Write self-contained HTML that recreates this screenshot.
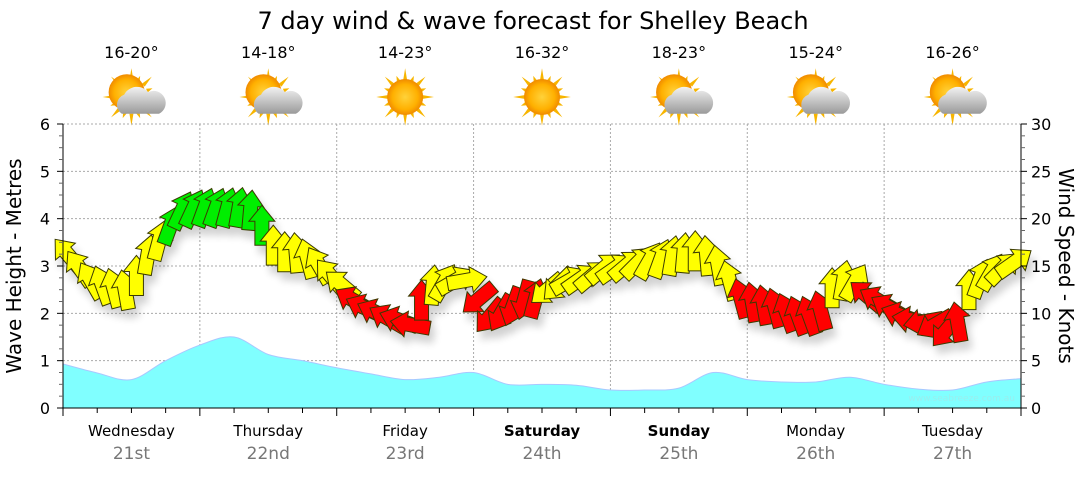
<!DOCTYPE html>
<html><head><meta charset="utf-8"><style>
body{margin:0;background:#fff;width:1080px;height:475px;overflow:hidden;font-family:"Liberation Sans","DejaVu Sans",sans-serif}
</style></head><body>
<svg id="chart" width="1080" height="475" xmlns="http://www.w3.org/2000/svg" font-family="'DejaVu Sans','Liberation Sans',sans-serif">
<defs>
<radialGradient id="sun" cx="50%" cy="50%" r="50%"><stop offset="0" stop-color="#ffd23a"/><stop offset="0.7" stop-color="#ffb000"/><stop offset="1" stop-color="#f08a00"/></radialGradient>
<linearGradient id="cloud" x1="0" y1="0" x2="0" y2="1"><stop offset="0" stop-color="#f2f2f2"/><stop offset="1" stop-color="#9a9a9a"/></linearGradient>
<filter id="sh" x="-50%" y="-50%" width="200%" height="200%"><feGaussianBlur in="SourceAlpha" stdDeviation="4"/><feOffset dx="4" dy="8"/><feComponentTransfer><feFuncA type="linear" slope="0.18"/></feComponentTransfer><feMerge><feMergeNode/><feMergeNode in="SourceGraphic"/></feMerge></filter>
</defs>
<text x="533" y="29" font-size="24" text-anchor="middle" fill="#000">7 day wind &amp; wave forecast for Shelley Beach</text>
<g id="topg"></g>
<g id="grid"></g>
<g id="wave"></g>
<g id="arrows" filter="url(#sh)"></g>
<g id="axes"></g>
<text x="1015" y="401" font-size="9" text-anchor="end" fill="#9ee">www.seabreeze.com.au</text>
<text transform="translate(21,266) rotate(-90)" font-size="20" text-anchor="middle">Wave Height - Metres</text>
<text transform="translate(1059,266) rotate(90)" font-size="20" text-anchor="middle">Wind Speed - Knots</text>
</svg>
<script>
const days=["Wednesday","Thursday","Friday","Saturday","Sunday","Monday","Tuesday"];
const dates=["21st","22nd","23rd","24th","25th","26th","27th"];
const temps=["16-20°","14-18°","14-23°","16-32°","18-23°","15-24°","16-26°"];
const icons=["cloud","cloud","sun","sun","cloud","cloud","cloud"];
const boldDays=[false,false,false,true,true,false,false];
const waveTicks=[0,1,2,3,4,5,6];
const windTicks=[0,5,10,15,20,25,30];
// wave height (m), 6-hourly
const waveHeights=[0.93,0.74,0.6,1.0,1.33,1.5,1.13,1.0,0.85,0.72,0.6,0.65,0.75,0.5,0.5,0.48,0.38,0.38,0.42,0.75,0.6,0.55,0.55,0.65,0.5,0.4,0.38,0.55,0.62];
// wind speed (knots), 2-hourly
const windSpeeds=[16.2,14.8,13.5,13.0,12.7,12.5,14.0,16.2,17.7,19.3,20.9,21.1,
21.2,21.2,21.2,21.2,20.9,19.3,17.2,16.5,16.4,15.8,15.1,14.0,
13.0,11.4,10.6,10.1,9.5,9.3,8.8,11.4,13.0,13.3,13.5,13.5,
11.5,9.7,10.0,10.7,11.4,11.6,12.5,13.0,13.5,13.7,14.0,14.8,
14.8,15.1,15.4,15.6,15.8,16.1,16.4,16.6,16.1,15.1,13.5,11.6,
11.2,10.9,10.6,10.1,9.8,9.8,10.3,12.7,13.5,13.3,11.9,11.4,
10.6,9.8,9.3,9.1,8.8,8.2,9.1,12.5,13.7,14.4,14.8,15.4];
// arrow heading (deg clockwise from up)
const windDirs=[-40,-35,-30,-20,-15,-10,0,10,15,20,25,25,
20,20,15,10,5,0,0,0,-5,-15,-30,-40,
-50,-60,-65,-65,-60,-70,-80,0,5,30,60,80,
230,220,210,200,195,15,230,225,60,55,50,50,
55,50,45,30,20,10,5,0,-5,-10,-15,-15,
-10,-10,-15,-20,-20,-20,-15,0,10,30,-50,-60,
-60,-70,-80,-100,-120,-140,-10,0,20,30,45,55];

const NS="http://www.w3.org/2000/svg";
const X0=63,X1=1021,Y0=408,Y1=124;
const dayW=(X1-X0)/7;
const xDay=d=>X0+d*dayW;
const yWave=m=>Y0-(Y0-Y1)*m/6;
const yWind=k=>Y0-(Y0-Y1)*k/30;
function el(tag,attrs,parent){const e=document.createElementNS(NS,tag);for(const k in attrs)e.setAttribute(k,attrs[k]);parent.appendChild(e);return e;}
const topG=document.getElementById('topg'),grid=document.getElementById('grid'),axes=document.getElementById('axes');

days.forEach((d,i)=>{
  const cx=xDay(i+0.5);
  const t=el('text',{x:cx,y:58,'font-size':16,'text-anchor':'middle'},topG);t.textContent=temps[i];
  
  
  const g=el('g',{transform:`translate(${cx},97) scale(1.2)`},topG);
  
  
  for(let r=0;r<16;r++){const a=r*Math.PI/8;el('polygon',{points:`${Math.cos(a-0.12)*14},${Math.sin(a-0.12)*14} ${Math.cos(a)*(r%2?19:24)},${Math.sin(a)*(r%2?19:24)} ${Math.cos(a+0.12)*14},${Math.sin(a+0.12)*14}`,fill:'#f7b500'},g);}
  if(icons[i]==='cloud'){el('circle',{cx:-4,cy:-4,r:15,fill:'url(#sun)'},g);
    el('path',{d:'M-8,14 a9,9 0 0 1 2,-16 a12,12 0 0 1 20,-2 a9,9 0 0 1 9,18 z',fill:'url(#cloud)'},g);}
  else el('circle',{cx:0,cy:0,r:15,fill:'url(#sun)'},g);
  const dl=el('text',{x:cx,y:436,'font-size':15,'text-anchor':'middle','font-weight':boldDays[i]?'bold':'normal'},axes);dl.textContent=d;
  
  
  const dt=el('text',{x:cx,y:459,'font-size':17,'text-anchor':'middle',fill:'#777'},axes);dt.textContent=dates[i];
  
  
  if(i>0){const v=el('line',{x1:xDay(i),x2:xDay(i),y1:Y1,y2:Y0,stroke:'#aaa','stroke-dasharray':'2,2'},grid);
    
    }
});
waveTicks.forEach((m,i)=>{
  const y=yWave(m);
  if(m>0){const h=el('line',{x1:X0,x2:X1,y1:y,y2:y,stroke:'#aaa','stroke-dasharray':'2,2'},grid);
    
    }
  const t=el('text',{x:50,y:y+6,'font-size':16,'text-anchor':'end'},axes);t.textContent=m;
  
  
  const r=el('text',{x:1031,y:yWind(windTicks[i])+6,'font-size':16},axes);r.textContent=windTicks[i];
  
  
});
el('line',{x1:X0,x2:X0,y1:Y1,y2:Y0,stroke:'#000'},axes);
el('line',{x1:X1,x2:X1,y1:Y1,y2:Y0,stroke:'#000'},axes);
el('line',{x1:X0,x2:X1,y1:Y0,y2:Y0,stroke:'#000'},axes);
for(let k=0;k<=24;k++){const y=Y0-(Y0-Y1)*k/24;const L=k%4==0?6:4;
  el('line',{x1:X0-L,x2:X0,y1:y,y2:y,stroke:k%4?'#666':'#000'},axes);
  el('line',{x1:X1,x2:X1+L,y1:y,y2:y,stroke:k%4?'#666':'#000'},axes);}
for(let k=0;k<=28;k++){const x=X0+k*dayW/4;el('line',{x1:x,x2:x,y1:Y0,y2:Y0+(k%4?5:8),stroke:'#000'},axes);}

const wg=document.getElementById('wave');
const pts=waveHeights.map((m,i)=>[X0+i*(X1-X0)/(waveHeights.length-1),yWave(m)]);
let d=`M${pts[0][0]},${Y0} L${pts[0][0]},${pts[0][1]}`;
for(let i=0;i<pts.length-1;i++){const p0=pts[Math.max(0,i-1)],p1=pts[i],p2=pts[i+1],p3=pts[Math.min(pts.length-1,i+2)];
  d+=` C${p1[0]+(p2[0]-p0[0])/6},${p1[1]+(p2[1]-p0[1])/6} ${p2[0]-(p3[0]-p1[0])/6},${p2[1]-(p3[1]-p1[1])/6} ${p2[0]},${p2[1]}`;}
d+=` L${X1},${Y0} Z`;
const wp=el('path',{d:d,fill:'#80ffff',stroke:'#a8c8ff','stroke-width':1},wg);



const ag=document.getElementById('arrows');
const shape='M-7,20 L7,20 L7,-4 L13,-4 L0,-20 L-13,-4 L-7,-4 Z';
windSpeeds.forEach((k,i)=>{
  const x=X0+i*(X1-X0)/windSpeeds.length+5;
  const y=yWind(k);
  const col=k<12?'#ff0000':(k>=18.5?'#00ee00':'#ffff00');
  const a=el('path',{d:shape,transform:`translate(${x},${y}) rotate(${windDirs[i]})`,fill:col,stroke:'#3a3a00','stroke-width':1},ag);
  
  
});
</script>
</body></html>
